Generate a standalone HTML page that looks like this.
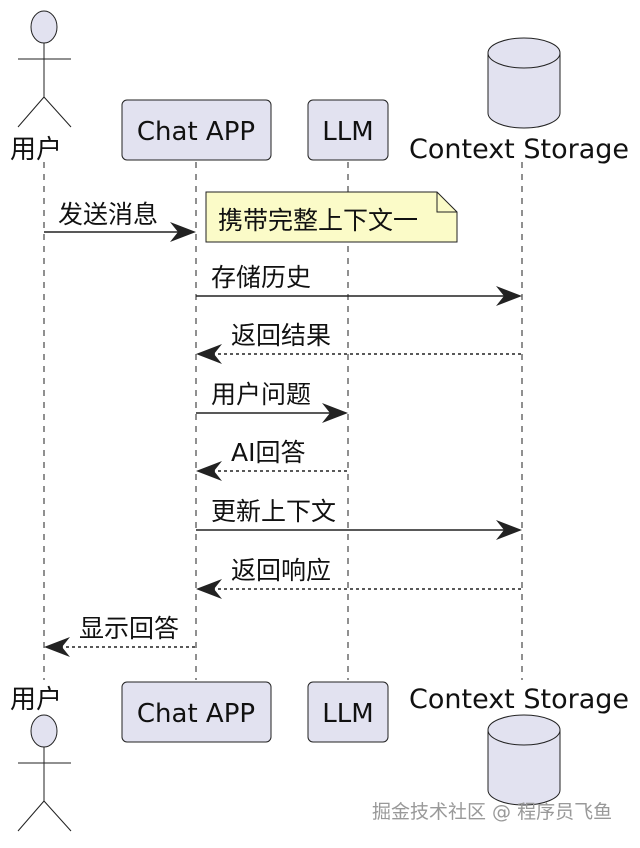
<!DOCTYPE html>
<html><head><meta charset="utf-8"><style>
html,body{margin:0;padding:0;background:#fff;}
svg text{font-family:"DejaVu Sans","Noto Sans CJK SC",sans-serif;fill:#111;}
</style></head><body>
<svg width="640" height="843" viewBox="0 0 640 843" xmlns="http://www.w3.org/2000/svg">
<g stroke="#222" stroke-width="1" stroke-dasharray="6,6" fill="none">
<line x1="44" y1="162" x2="44" y2="680"/>
<line x1="196" y1="162" x2="196" y2="680"/>
<line x1="348" y1="162" x2="348" y2="680"/>
<line x1="522" y1="162" x2="522" y2="680"/>
</g>
<!-- top actor -->
<g stroke="#222" stroke-width="1" fill="#e2e2f0">
<ellipse cx="44" cy="27" rx="13" ry="16"/>
<line x1="44" y1="43" x2="44" y2="97"/>
<line x1="18" y1="59" x2="71" y2="59"/>
<line x1="44" y1="97" x2="18" y2="127"/>
<line x1="44" y1="97" x2="71" y2="127"/>
</g>
<text x="10" y="158" font-size="26">用户</text>
<rect x="122" y="100" width="149" height="60" rx="5" fill="#e2e2f0" stroke="#222"/>
<text x="196" y="140" font-size="26" text-anchor="middle">Chat APP</text>
<rect x="308" y="100" width="80" height="60" rx="5" fill="#e2e2f0" stroke="#222"/>
<text x="348" y="140" font-size="26" text-anchor="middle">LLM</text>
<path d="M488,53 A36,15 0 0 1 560,53 L560,113 A36,15 0 0 1 488,113 Z" fill="#e2e2f0" stroke="#222"/>
<path d="M488,53 A36,15 0 0 0 560,53" fill="none" stroke="#222"/>
<text x="519" y="158" font-size="27" text-anchor="middle">Context Storage</text>
<!-- bottom -->
<text x="10" y="708" font-size="26">用户</text>
<g stroke="#222" stroke-width="1" fill="#e2e2f0">
<ellipse cx="44" cy="731" rx="13" ry="16"/>
<line x1="44" y1="747" x2="44" y2="801"/>
<line x1="18" y1="763" x2="71" y2="763"/>
<line x1="44" y1="801" x2="18" y2="831"/>
<line x1="44" y1="801" x2="71" y2="831"/>
</g>
<rect x="122" y="682" width="149" height="60" rx="5" fill="#e2e2f0" stroke="#222"/>
<text x="196" y="722" font-size="26" text-anchor="middle">Chat APP</text>
<rect x="308" y="682" width="80" height="60" rx="5" fill="#e2e2f0" stroke="#222"/>
<text x="348" y="722" font-size="26" text-anchor="middle">LLM</text>
<path d="M488,730 A36,15 0 0 1 560,730 L560,790 A36,15 0 0 1 488,790 Z" fill="#e2e2f0" stroke="#222"/>
<path d="M488,730 A36,15 0 0 0 560,730" fill="none" stroke="#222"/>
<text x="519" y="708" font-size="27" text-anchor="middle">Context Storage</text>
<!-- note -->
<path d="M206,192 L437,192 L457,212 L457,242 L206,242 Z" fill="#fbfbc8" stroke="#222"/>
<path d="M437,192 L437,212 L457,212" fill="none" stroke="#222"/>
<text x="218" y="229" font-size="25">携带完整上下文一</text>
<!-- messages -->
<g stroke="#222" stroke-width="1.5" fill="none">
<line x1="44" y1="232" x2="192" y2="232"/>
<line x1="196" y1="296" x2="518" y2="296"/>
<line x1="200" y1="354" x2="522" y2="354" stroke-dasharray="3,3"/>
<line x1="196" y1="413" x2="344" y2="413"/>
<line x1="200" y1="471" x2="348" y2="471" stroke-dasharray="3,3"/>
<line x1="196" y1="530" x2="518" y2="530"/>
<line x1="200" y1="589" x2="522" y2="589" stroke-dasharray="3,3"/>
<line x1="48" y1="647" x2="196" y2="647" stroke-dasharray="3,3"/>
</g>
<g fill="#222">
<path d="M196,232 l-26,-10 l8,10 l-8,10 z"/>
<path d="M522,296 l-26,-10 l8,10 l-8,10 z"/>
<path d="M196,354 l26,-10 l-8,10 l8,10 z"/>
<path d="M348,413 l-26,-10 l8,10 l-8,10 z"/>
<path d="M196,471 l26,-10 l-8,10 l8,10 z"/>
<path d="M522,530 l-26,-10 l8,10 l-8,10 z"/>
<path d="M196,589 l26,-10 l-8,10 l8,10 z"/>
<path d="M44,647 l26,-10 l-8,10 l8,10 z"/>
</g>
<g font-size="25">
<text x="58" y="223">发送消息</text>
<text x="211" y="286">存储历史</text>
<text x="231" y="344">返回结果</text>
<text x="211" y="403">用户问题</text>
<text x="231" y="461">AI回答</text>
<text x="211" y="520">更新上下文</text>
<text x="231" y="579">返回响应</text>
<text x="79" y="637">显示回答</text>
</g>
<text x="372" y="818" font-size="19" style="fill:#999">掘金技术社区 @ 程序员飞鱼</text>
</svg>
</body></html>
